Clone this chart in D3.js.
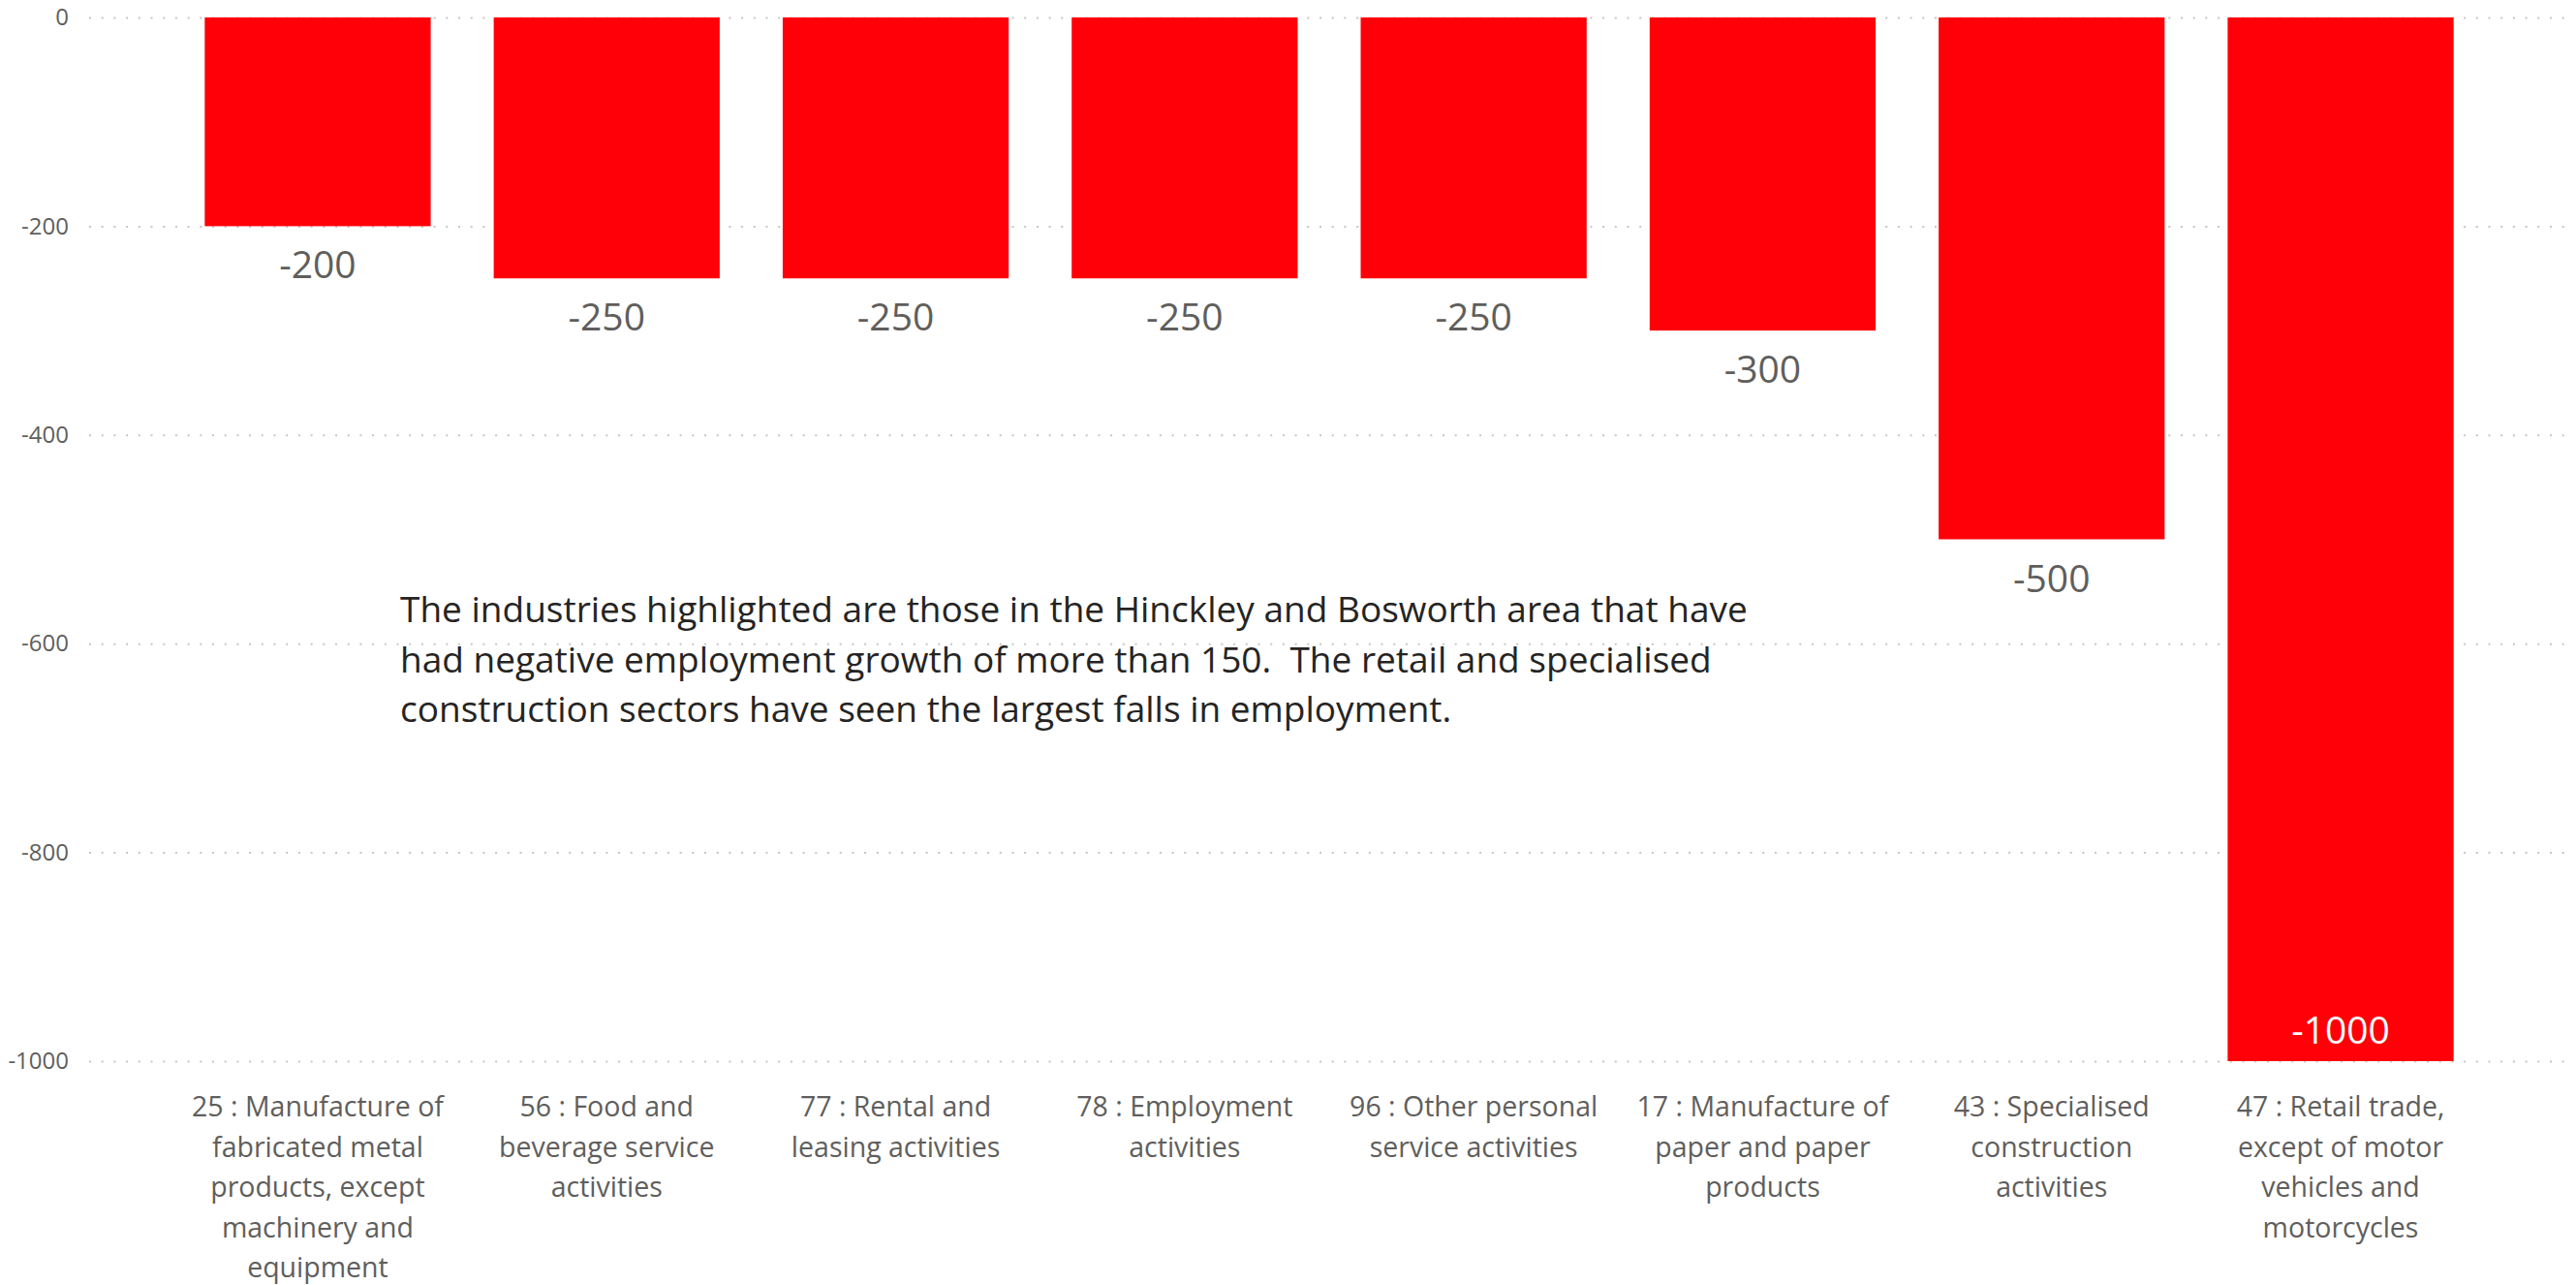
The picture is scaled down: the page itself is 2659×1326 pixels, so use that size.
<!DOCTYPE html>
<html>
<head>
<meta charset="utf-8">
<script src="https://cdn.jsdelivr.net/npm/d3@7"></script>
<style>
  html, body { margin: 0; padding: 0; background: #fff; }
  svg { display: block; font-family: "Open Sans", "Noto Sans", sans-serif; }
</style>
</head>
<body>
<svg id="chart" width="2659" height="1326"></svg>
<script>
// ---- data ----
const categories = [
  "25 : Manufacture of fabricated metal products, except machinery and equipment",
  "56 : Food and beverage service activities",
  "77 : Rental and leasing activities",
  "78 : Employment activities",
  "96 : Other personal service activities",
  "17 : Manufacture of paper and paper products",
  "43 : Specialised construction activities",
  "47 : Retail trade, except of motor vehicles and motorcycles"
];
const categoryLines = [
  ["25 : Manufacture of", "fabricated metal", "products, except", "machinery and", "equipment"],
  ["56 : Food and", "beverage service", "activities"],
  ["77 : Rental and", "leasing activities"],
  ["78 : Employment", "activities"],
  ["96 : Other personal", "service activities"],
  ["17 : Manufacture of", "paper and paper", "products"],
  ["43 : Specialised", "construction", "activities"],
  ["47 : Retail trade,", "except of motor", "vehicles and", "motorcycles"]
];
const values = [-200, -250, -250, -250, -250, -300, -500, -1000];
const yTicks = [0, -200, -400, -600, -800, -1000];
const annotationLines = [
  "The industries highlighted are those in the Hinckley and Bosworth area that have",
  "had negative employment growth of more than 150.  The retail and specialised",
  "construction sectors have seen the largest falls in employment."
];

// ---- layout ----
const svg = d3.select("#chart");
const plot = { left: 92, right: 2652, top: 18, bottom: 1095 };

const x = d3.scaleBand()
  .domain(categories)
  .range([plot.left, plot.right])
  .paddingInner(0.218)
  .paddingOuter(0.4);

const y = d3.scaleLinear()
  .domain([-1000, 0])
  .range([plot.bottom, plot.top]);

// gridlines + y axis labels
const yAxis = d3.axisLeft(y)
  .tickValues(yTicks)
  .tickSize(-(plot.right - plot.left + 3))
  .tickPadding(21)
  .tickFormat(d => String(d));

const gy = svg.append("g")
  .attr("transform", `translate(${plot.left},0)`)
  .call(yAxis);
gy.select(".domain").remove();
gy.selectAll(".tick line")
  .attr("stroke", "#c8c6c4")
  .attr("stroke-width", 2)
  .attr("stroke-dasharray", "2,10.7");
gy.selectAll(".tick text")
  .attr("fill", "#605e5c")
  .style("font-size", "24px")
  .style("font-family", "\"Open Sans\", sans-serif");

// bars
svg.append("g").selectAll("rect")
  .data(values)
  .join("rect")
  .attr("x", (d, i) => x(categories[i]))
  .attr("width", x.bandwidth())
  .attr("y", d => y(Math.max(0, d)))
  .attr("height", d => Math.abs(y(d) - y(0)))
  .attr("fill", "#ff0008");

// value labels
svg.append("g").selectAll("text")
  .data(values)
  .join("text")
  .attr("x", (d, i) => x(categories[i]) + x.bandwidth() / 2)
  .attr("y", d => d <= -1000 ? y(d) - 18 : y(d) + 54)
  .attr("text-anchor", "middle")
  .attr("fill", d => d <= -1000 ? "#ffffff" : "#605e5c")
  .style("font-size", "39px")
  .text(d => String(d));

// category labels
const gx = svg.append("g");
categoryLines.forEach((lines, i) => {
  const t = gx.append("text")
    .attr("text-anchor", "middle")
    .attr("fill", "#605e5c")
    .style("font-size", "28.5px");
  lines.forEach((ln, j) => {
    t.append("tspan")
      .attr("x", x(categories[i]) + x.bandwidth() / 2)
      .attr("y", 1152 + j * 41.5)
      .text(ln);
  });
});

// annotation
const ann = svg.append("text")
  .attr("fill", "#252423")
  .attr("xml:space", "preserve")
  .style("white-space", "pre")
  .style("font-size", "37px");
annotationLines.forEach((ln, j) => {
  ann.append("tspan")
    .attr("x", 413)
    .attr("y", 642 + j * 51.5)
    .text(ln);
});
</script>
</body>
</html>
